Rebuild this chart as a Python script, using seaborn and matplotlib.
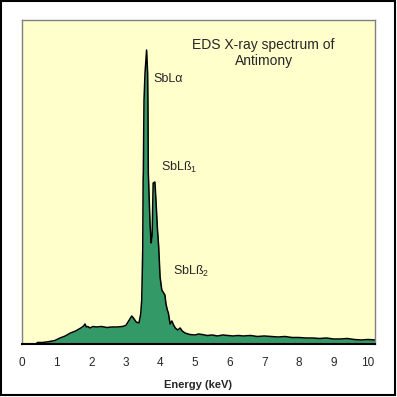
import matplotlib
matplotlib.use("Agg")
import matplotlib.pyplot as plt
import seaborn as sns
import pandas as pd
from matplotlib.patches import Rectangle

# spectrum (energy in keV, counts in arbitrary units)
energy = [0.40, 0.45, 0.60, 0.70, 0.80, 0.95, 1.10, 1.25, 1.40, 1.55, 1.70, 1.78,
          1.82, 1.86, 1.90, 1.97, 2.05, 2.15, 2.30, 2.45, 2.60, 2.75, 2.90, 3.00,
          3.10, 3.17, 3.22, 3.30, 3.38, 3.43, 3.46, 3.49, 3.50, 3.506, 3.526, 3.555,
          3.60, 3.63, 3.64, 3.65, 3.70, 3.73, 3.76, 3.79, 3.84, 3.87, 3.91, 3.95,
          3.99, 4.04, 4.13, 4.16, 4.20, 4.23, 4.28, 4.33, 4.38, 4.43, 4.50, 4.57,
          4.63, 4.71, 4.85, 5.00, 5.10, 5.20, 5.35, 5.50, 5.65, 5.80, 5.95, 6.10,
          6.25, 6.40, 6.60, 6.80, 7.00, 7.20, 7.40, 7.60, 7.80, 8.00, 8.20, 8.40,
          8.60, 8.80, 9.00, 9.20, 9.40, 9.60, 9.80, 10.0, 10.2]
counts = [0, 1.5, 1.5, 2, 2.5, 3.5, 6, 8, 11, 13, 16, 18,
          20, 17, 17.5, 16, 17.5, 17, 17.5, 16.5, 17, 17, 17.5, 18.5,
          24, 28, 26, 22, 21, 30, 44, 97, 164, 171, 244, 271,
          294, 271, 237, 171, 120, 101, 108, 161, 162, 144, 117, 97,
          67, 54, 49, 40, 34, 31, 20, 23, 19, 16, 14, 16,
          13, 11, 9.5, 9, 10, 9.5, 8.5, 9, 8, 9, 8.5, 8,
          8.5, 8, 8.5, 7.5, 8, 7.5, 7, 7.5, 6.5, 6.5, 6, 6,
          5.5, 6, 5, 5, 5.5, 4.5, 4, 4.5, 4]
tick_values = list(range(0, 11))

df = pd.DataFrame({"energy": energy, "counts": counts})

sns.set_style("white")
plt.rcParams["font.family"] = ["Liberation Sans", "DejaVu Sans"]
plt.rcParams["mathtext.fontset"] = "custom"
plt.rcParams["mathtext.rm"] = "Liberation Sans"
plt.rcParams["mathtext.it"] = "Liberation Sans"

fig = plt.figure(figsize=(3.97, 3.97), dpi=100)
ax = fig.add_axes([0.0554, 0.1335, 0.8892, 0.8161])
ax.set_facecolor("#FFFFCC")

ax.fill_between(df["energy"], df["counts"], color="#339966", linewidth=0)
sns.lineplot(x="energy", y="counts", data=df, color="black", linewidth=1.1, ax=ax)

ax.set_xlim(0, 10.2)
ax.set_ylim(0, 324)
ax.set_xticks(tick_values)
ax.set_xticklabels([str(t) for t in tick_values], fontsize=8.5)
ax.set_yticks([])
ax.tick_params(axis="x", length=0, pad=9)
ax.set_xlabel("Energy (keV)", fontsize=8, fontweight="bold", labelpad=8)
ax.set_ylabel("")

for side in ["left", "top", "right"]:
    ax.spines[side].set_color("#808080")
    ax.spines[side].set_linewidth(1)
ax.spines["bottom"].set_color("black")
ax.spines["bottom"].set_linewidth(1.5)

ax.text(6.98, 291, "EDS X-ray spectrum of\nAntimony", ha="center", va="center",
        fontsize=10, linespacing=1.2)
ax.text(3.79, 265, "SbL\u03b1", ha="left", va="center", fontsize=9)
ax.text(4.01, 177, "SbL\u00df$_1$", ha="left", va="center", fontsize=9)
ax.text(4.37, 73, "SbL\u00df$_2$", ha="left", va="center", fontsize=9)

fig.patches.append(Rectangle((0.002, 0.004), 0.993, 0.993, transform=fig.transFigure,
                             fill=False, edgecolor="black", linewidth=1.5))

plt.savefig("out.png", dpi=100)
